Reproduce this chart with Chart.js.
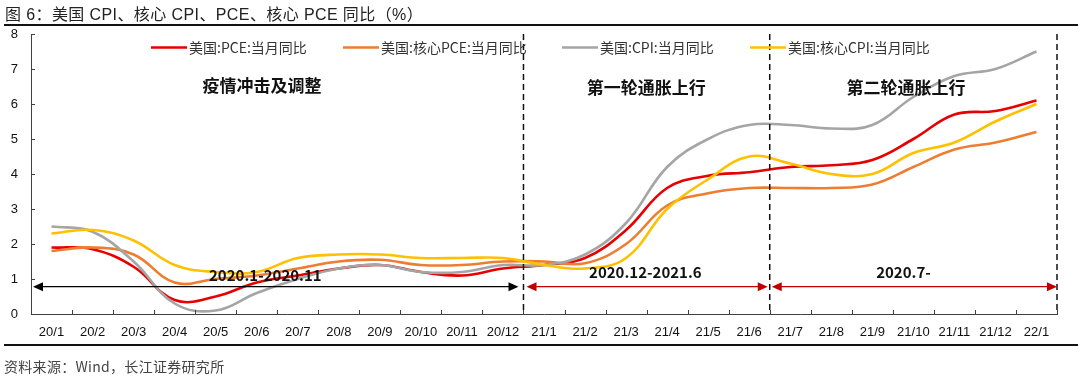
<!DOCTYPE html>
<html>
<head>
<meta charset="utf-8">
<script src="https://cdn.jsdelivr.net/npm/chart.js@4.4.1/dist/chart.umd.min.js"></script>
<style>
  html, body { margin: 0; padding: 0; background: #fff; }
  #wrap { position: relative; width: 1080px; height: 380px; overflow: hidden; }
  #title { position: absolute; left: 5px; top: 1px; font: 16px "Liberation Sans", "Noto Sans CJK SC", sans-serif; color: #222; white-space: nowrap; letter-spacing: 0.4px; }
  #rule1 { position: absolute; left: 4px; top: 24px; width: 1074px; height: 2px; background: #111; }
  #rule2 { position: absolute; left: 4px; top: 344px; width: 1074px; height: 2px; background: #111; }
  #source { position: absolute; left: 4px; top: 356px; font: 14px "Noto Sans CJK SC", "Liberation Sans", sans-serif; color: #444; white-space: nowrap; letter-spacing: 0.3px; }
  canvas { position: absolute; left: 0; top: 0; }
</style>
</head>
<body>
<div id="wrap">
  <canvas id="c" width="1080" height="380"></canvas>
  <div id="title">图 6：美国 CPI、核心 CPI、PCE、核心 PCE 同比（%）</div>
  <div id="rule1"></div>
  <div id="rule2"></div>
  <div id="source">资料来源：Wind，长江证券研究所</div>
</div>
<script>
const categories = ['20/1','20/2','20/3','20/4','20/5','20/6','20/7','20/8','20/9','20/10','20/11','20/12',
                    '21/1','21/2','21/3','21/4','21/5','21/6','21/7','21/8','21/9','21/10','21/11','21/12','22/1'];
const pce     = [1.9, 1.85, 1.35, 0.4, 0.5, 0.9, 1.1, 1.3, 1.4, 1.2, 1.1, 1.3, 1.4, 1.6, 2.4, 3.6, 3.95, 4.05, 4.2, 4.25, 4.4, 5.0, 5.7, 5.8, 6.1];
const corePce = [1.8, 1.9, 1.7, 0.9, 1.0, 1.1, 1.3, 1.5, 1.55, 1.4, 1.4, 1.5, 1.5, 1.45, 2.0, 3.1, 3.45, 3.6, 3.6, 3.6, 3.7, 4.2, 4.7, 4.9, 5.2];
const cpi     = [2.5, 2.35, 1.5, 0.3, 0.1, 0.6, 1.0, 1.3, 1.4, 1.2, 1.2, 1.4, 1.4, 1.7, 2.6, 4.2, 5.0, 5.4, 5.4, 5.3, 5.4, 6.2, 6.8, 7.0, 7.5];
const coreCpi = [2.3, 2.4, 2.1, 1.4, 1.2, 1.2, 1.6, 1.7, 1.7, 1.6, 1.6, 1.6, 1.4, 1.3, 1.6, 3.0, 3.85, 4.5, 4.3, 4.0, 4.0, 4.6, 4.9, 5.5, 6.0];
const seriesNames = ['美国:PCE:当月同比', '美国:核心PCE:当月同比', '美国:CPI:当月同比', '美国:核心CPI:当月同比'];
const yTicks = [0, 1, 2, 3, 4, 5, 6, 7, 8];

const phaseLabels = ['疫情冲击及调整', '第一轮通胀上行', '第二轮通胀上行'];
const rangeLabels = ['2020.1-2020.11', '2020.12-2021.6', '2020.7-'];

const colors = ['#E60000', '#ED7D31', '#A5A5A5', '#FFC000'];
const CJK = '"Noto Sans CJK SC", "Liberation Sans", sans-serif';

const annotate = {
  id: 'annotate',
  afterDatasetsDraw(chart) {
    const ctx = chart.ctx;
    const xs = chart.scales.x, ys = chart.scales.y;
    const area = chart.chartArea;
    const bnd = i => (xs.getPixelForValue(i) + xs.getPixelForValue(i + 1)) / 2;
    const b1 = bnd(11), b2 = bnd(17), b3 = area.right;
    ctx.save();
    ctx.strokeStyle = '#404040'; ctx.lineWidth = 1;
    for (let i = 0; i < categories.length; i++) {
      const x = Math.round(xs.getPixelForValue(i) + (xs.getPixelForValue(1) - xs.getPixelForValue(0)) / 2) + 0.5;
      ctx.beginPath(); ctx.moveTo(x, area.bottom); ctx.lineTo(x, area.bottom - 4); ctx.stroke();
    }
    yTicks.forEach(v => {
      const y = Math.round(ys.getPixelForValue(v)) + 0.5;
      ctx.beginPath(); ctx.moveTo(area.left, y); ctx.lineTo(area.left + 4, y); ctx.stroke();
    });
    ctx.strokeStyle = '#111'; ctx.lineWidth = 1.5; ctx.setLineDash([6, 4]);
    [b1, b2, b3].forEach(x => {
      ctx.beginPath(); ctx.moveTo(x, area.top); ctx.lineTo(x, area.bottom); ctx.stroke();
    });
    ctx.setLineDash([]);
    const ay = ys.getPixelForValue(0.78);
    function arrow(x1, x2, col) {
      ctx.strokeStyle = col; ctx.fillStyle = col; ctx.lineWidth = 1.3;
      ctx.beginPath(); ctx.moveTo(x1 + 8, ay); ctx.lineTo(x2 - 8, ay); ctx.stroke();
      ctx.beginPath(); ctx.moveTo(x1, ay); ctx.lineTo(x1 + 10, ay - 4.5); ctx.lineTo(x1 + 10, ay + 4.5); ctx.closePath(); ctx.fill();
      ctx.beginPath(); ctx.moveTo(x2, ay); ctx.lineTo(x2 - 10, ay - 4.5); ctx.lineTo(x2 - 10, ay + 4.5); ctx.closePath(); ctx.fill();
    }
    arrow(area.left + 2, b1 - 5, '#000');
    arrow(b1 + 3, b2 - 2, '#C00000');
    arrow(b2 + 2, b3, '#C00000');
    ctx.fillStyle = '#111'; ctx.textAlign = 'center'; ctx.textBaseline = 'middle';
    ctx.font = 'bold 17px ' + CJK;
    ctx.fillText(phaseLabels[0], xs.getPixelForValue(5.13), ys.getPixelForValue(6.54));
    ctx.fillText(phaseLabels[1], xs.getPixelForValue(14.49), ys.getPixelForValue(6.46));
    ctx.fillText(phaseLabels[2], xs.getPixelForValue(20.82), ys.getPixelForValue(6.46));
    ctx.font = 'bold 15px ' + CJK;
    ctx.fillText(rangeLabels[0], xs.getPixelForValue(5.21), ys.getPixelForValue(1.12));
    ctx.fillText(rangeLabels[1], xs.getPixelForValue(14.47), ys.getPixelForValue(1.18));
    ctx.fillText(rangeLabels[2], xs.getPixelForValue(20.76), ys.getPixelForValue(1.18));
    const lx = [151, 343, 562, 750];
    const ly = 47.5;
    ctx.font = '14px ' + CJK; ctx.textAlign = 'left';
    chart.data.datasets.forEach((ds, i) => {
      ctx.strokeStyle = ds.borderColor; ctx.lineWidth = 2.5;
      ctx.beginPath(); ctx.moveTo(lx[i], ly); ctx.lineTo(lx[i] + 36, ly); ctx.stroke();
      ctx.fillStyle = '#333';
      ctx.fillText(ds.label, lx[i] + 38, ly);
    });
    ctx.restore();
  }
};

const mk = (label, data, color, order) => ({
  label, data, borderColor: color, backgroundColor: color, borderWidth: 2.6,
  pointRadius: 0, tension: 0.4, fill: false, order
});

new Chart(document.getElementById('c'), {
  type: 'line',
  data: {
    labels: categories,
    datasets: [
      mk(seriesNames[0], pce, colors[0], 4),
      mk(seriesNames[1], corePce, colors[1], 3),
      mk(seriesNames[2], cpi, colors[2], 2),
      mk(seriesNames[3], coreCpi, colors[3], 1)
    ]
  },
  options: {
    responsive: false,
    animation: false,
    layout: { padding: { top: 34, right: 23, left: 0, bottom: 0 } },
    plugins: { legend: { display: false }, tooltip: { enabled: false }, title: { display: false } },
    scales: {
      x: {
        offset: true,
        grid: { display: true, drawOnChartArea: false, drawTicks: false },
        border: { display: true, color: '#404040', width: 1 },
        ticks: { color: '#111', font: { family: '"Liberation Sans", Arial, sans-serif', size: 13 }, padding: 11, maxRotation: 0, autoSkip: false },
        afterFit(s) { s.height = 66; }
      },
      y: {
        min: 0, max: 8,
        grid: { display: true, drawOnChartArea: false, drawTicks: false },
        border: { display: true, color: '#404040', width: 1 },
        ticks: { stepSize: 1, color: '#111', font: { family: '"Liberation Sans", Arial, sans-serif', size: 13 }, padding: 13 },
        afterFit(s) { s.width = 31; }
      }
    }
  },
  plugins: [annotate]
});
</script>
</body>
</html>
